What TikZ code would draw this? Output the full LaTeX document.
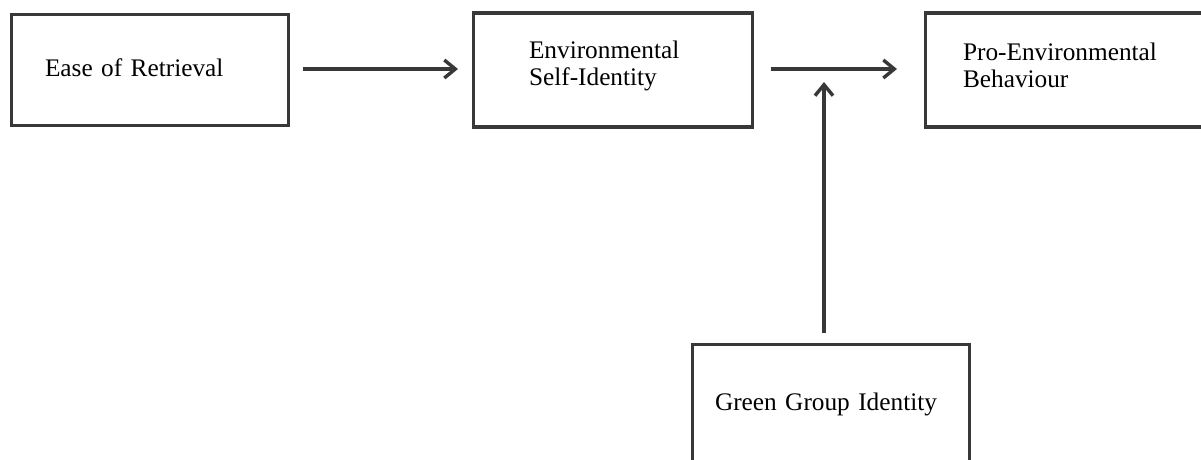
\documentclass[tikz,border=0pt]{standalone}
\usepackage{fontspec}
\setmainfont{Liberation Serif}[WordSpace=0.85]
\usetikzlibrary{positioning}
\usetikzlibrary{arrows.meta}
\definecolor{linegray}{HTML}{383838}

\begin{document}
\begin{tikzpicture}[x=1pt,y=-1pt]

        \tikzstyle{factor} = [rectangle, draw=linegray, line width=3.4pt, outer sep=0pt,
            inner ysep=0pt, align=left, font=\fontsize{25.3}{27}\selectfont]
        \tikzstyle{link} = [-{Straight Barb[length=11pt,width=18pt]}, line width=3.4pt, draw=linegray]

        \path[use as bounding box, clip] (0,0) rectangle (1201,459);

        \node[factor, minimum width=277pt, minimum height=111pt, inner xsep=33.5pt, text width=210pt, text depth=5pt] (ease) at (150,70) {Ease of Retrieval};
        \node[factor, right=185pt of ease, minimum width=279pt, minimum height=114pt, inner xsep=55.5pt, text width=168pt, text depth=40pt] (esi) {Environmental\\Self-Identity};
        \node[factor, right=173pt of esi, minimum width=277pt, minimum height=114pt, inner xsep=37.5pt, text width=202pt, text depth=37pt] (peb) {Pro-Environmental\\Behaviour};
        \node[factor, minimum width=277pt, minimum height=120pt, inner xsep=22.5pt, text width=232pt, text depth=5pt] (ggi) at (831,404.5) {Green Group Identity};

        \coordinate (mod) at (824,69);

        \draw[link, shorten <=14.5pt, shorten >=15.5pt] (ease.east |- mod) -- (esi.west |- mod);
        \draw[link, shorten <=18.5pt, shorten >=28.5pt] (esi.east |- mod) -- (peb.west |- mod);
        \draw[link, shorten <=11.5pt, shorten >=13pt] (mod |- ggi.north) -- (mod);

\end{tikzpicture}
\end{document}
